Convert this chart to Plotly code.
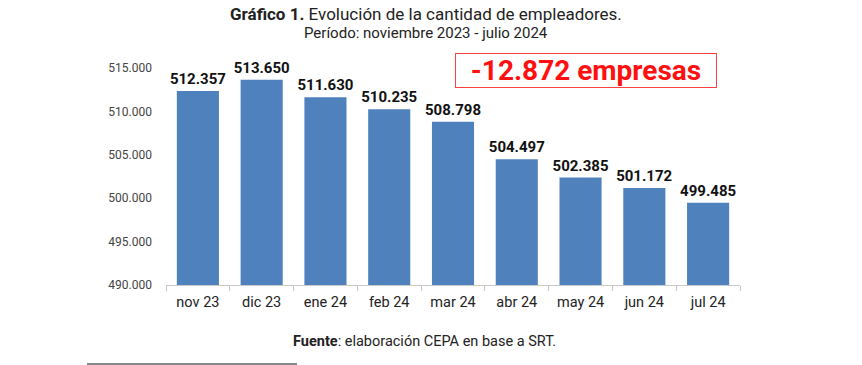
import plotly.graph_objects as go

categories = ["nov 23", "dic 23", "ene 24", "feb 24", "mar 24", "abr 24", "may 24", "jun 24", "jul 24"]
empleadores = [512357, 513650, 511630, 510235, 508798, 504497, 502385, 501172, 499485]
y_ticks = [490000, 495000, 500000, 505000, 510000, 515000]

# plot area in page pixels
L, T, B = 166, 68, 80
PW, PH = 574, 217

def px(x):
    return (x - L) / PW

def py(y):
    return (365 - B - y) / PH

fig = go.Figure()
fig.add_trace(go.Bar(
    x=categories, y=empleadores,
    marker=dict(color="#4F81BD", line=dict(width=0)),
    width=0.66,
    text=[f"{v:,}".replace(",", ".") for v in empleadores],
    textposition="outside",
    constraintext="none",
    textfont=dict(family="Roboto", size=15, color="#111111", weight="bold"),
    cliponaxis=False,
    hoverinfo="skip",
))

fig.update_layout(
    width=862, height=365,
    margin=dict(l=L, r=862 - L - PW, t=T, b=B),
    paper_bgcolor="white", plot_bgcolor="white",
    separators=",.",
    showlegend=False,
    font=dict(family="Roboto", color="#333333"),
)
fig.update_yaxes(
    range=[490000, 515000], tickvals=y_ticks, tickformat=",d",
    showgrid=False, zeroline=False, showline=False,
    tickfont=dict(size=12, color="#444444"), ticks="", ticklabelstandoff=13,
)
fig.update_xaxes(
    showline=True, linecolor="#c8c8c8", linewidth=1,
    ticks="outside", tickson="boundaries", ticklen=5, tickcolor="#c8c8c8",
    tickfont=dict(size=14.5, color="#222222"), ticklabelstandoff=4,
)

fig.add_annotation(xref="paper", yref="paper", x=px(426), y=py(14),
                   text="<b>Gráfico 1.</b> Evolución de la cantidad de empleadores.",
                   showarrow=False, font=dict(size=17, color="#222222"), xanchor="center", yanchor="middle")
fig.add_annotation(xref="paper", yref="paper", x=px(426), y=py(33),
                   text="Período: noviembre 2023 - julio 2024",
                   showarrow=False, font=dict(size=15, color="#222222"), xanchor="center", yanchor="middle")
fig.add_annotation(xref="paper", yref="paper", x=px(586), y=py(70.5),
                   text="<b>-12.872 empresas</b>", showarrow=False,
                   font=dict(size=28, color="#FF1010"),
                   bordercolor="#FF4040", borderwidth=1, borderpad=0,
                   width=260, height=33,
                   xanchor="center", yanchor="middle")
fig.add_annotation(xref="paper", yref="paper", x=px(424), y=py(341),
                   text="<b>Fuente</b>: elaboración CEPA en base a SRT.", showarrow=False,
                   font=dict(size=14.5, color="#222222"), xanchor="center", yanchor="middle")
fig.add_shape(type="line", xref="paper", yref="paper",
              x0=px(87), x1=px(297), y0=py(364), y1=py(364),
              line=dict(color="#111111", width=1))

fig.write_html("out.html",
               config={"displayModeBar": False, "staticPlot": True},
               post_script="document.body.style.margin='0';document.body.style.overflow='hidden';")
